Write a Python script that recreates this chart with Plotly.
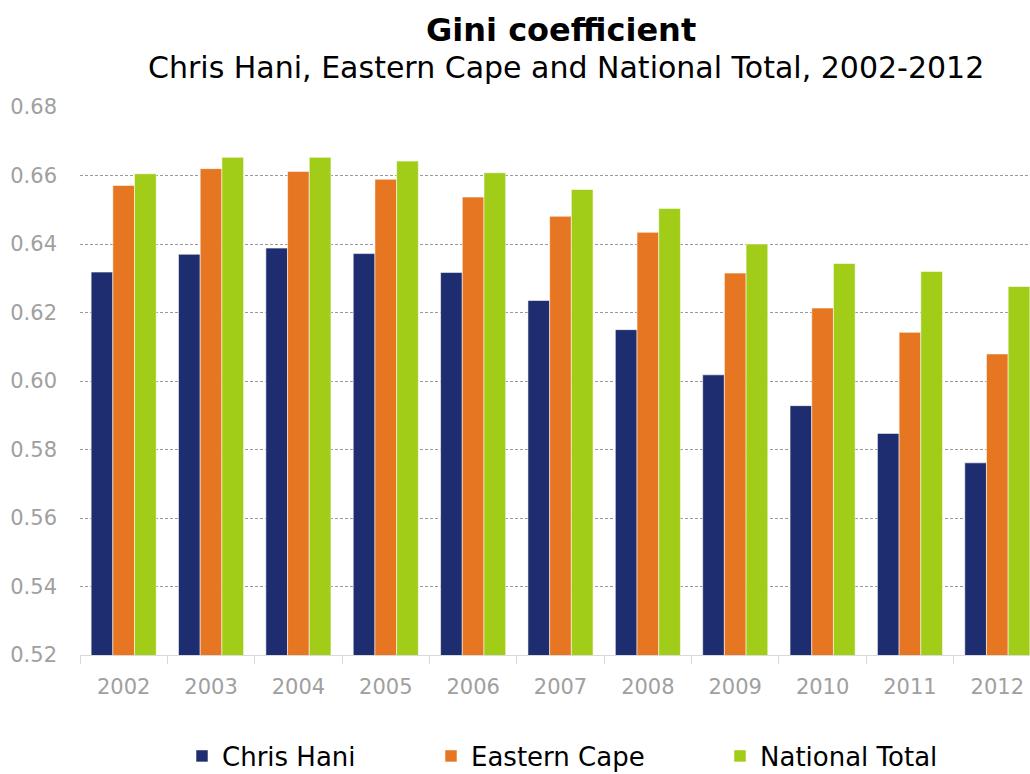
import plotly.graph_objects as go

# Gini coefficient by year for three regions
years = ["2002", "2003", "2004", "2005", "2006", "2007", "2008", "2009", "2010", "2011", "2012"]
chris_hani = [0.6318, 0.6370, 0.6388, 0.6372, 0.6317, 0.6235, 0.6150, 0.6018, 0.5928, 0.5847, 0.5761]
eastern_cape = [0.6571, 0.6620, 0.6612, 0.6589, 0.6537, 0.6481, 0.6434, 0.6315, 0.6213, 0.6142, 0.6079]
national_total = [0.6605, 0.6653, 0.6653, 0.6642, 0.6608, 0.6559, 0.6504, 0.6400, 0.6343, 0.6320, 0.6276]

series = [
    ("Chris Hani", chris_hani, "#1E2D6F"),
    ("Eastern Cape", eastern_cape, "#E67621"),
    ("National Total", national_total, "#A1CC17"),
]

FONT = "DejaVu Sans"
LEFT, RIGHT, TOP, BOTTOM = 80, 0, 107, 119
W, H = 1030, 774
plot_w = W - LEFT - RIGHT
plot_h = H - TOP - BOTTOM


def px_x(px):
    return (px - LEFT) / plot_w


def px_y(px):
    return 1 + (TOP - px) / plot_h


fig = go.Figure()
legend_ids = ["legend", "legend2", "legend3"]
for (name, vals, color), lid in zip(series, legend_ids):
    fig.add_trace(go.Bar(
        x=years, y=vals, name=name, legend=lid,
        marker=dict(color=color, line=dict(color="rgba(255,255,255,0.55)", width=1)),
    ))

# one legend box per series, spaced along the bottom
legend_left_px = [182, 431, 720]
legend_common = dict(
    orientation="h", xanchor="left", yanchor="middle", y=px_y(756),
    font=dict(family=FONT, size=26, color="#000000"), itemwidth=30,
    bgcolor="rgba(0,0,0,0)",
)

fig.update_layout(
    width=W, height=H,
    margin=dict(l=LEFT, r=RIGHT, t=TOP, b=BOTTOM, autoexpand=False),
    paper_bgcolor="white", plot_bgcolor="white",
    barmode="group", bargap=0.255, bargroupgap=0,
    font=dict(family=FONT, color="#000000"),
    showlegend=True,
    legend=dict(x=px_x(legend_left_px[0]), **legend_common),
    legend2=dict(x=px_x(legend_left_px[1]), **legend_common),
    legend3=dict(x=px_x(legend_left_px[2]), **legend_common),
    annotations=[
        dict(text="<b>Gini coefficient</b>", x=px_x(561), y=px_y(30), xref="paper", yref="paper",
             yanchor="middle", showarrow=False, font=dict(family=FONT, size=32, color="#000000")),
        dict(text="Chris Hani, Eastern Cape and National Total, 2002-2012", x=px_x(566), y=px_y(68),
             xref="paper", yref="paper", yanchor="middle", showarrow=False,
             font=dict(family=FONT, size=30, color="#000000")),
    ],
)

fig.update_xaxes(
    range=[-0.5, 10.374],
    showline=True, linecolor="#D9D9D9", linewidth=1,
    ticks="outside", tickson="boundaries", ticklen=8, tickcolor="#D9D9D9",
    tickfont=dict(family=FONT, size=21, color="#A0A0A0"),
    ticklabelstandoff=13,
    showgrid=False,
)
fig.update_yaxes(
    range=[0.52, 0.68], dtick=0.02, tickformat=".2f",
    showgrid=True, gridcolor="#9A9A9A", gridwidth=1, griddash="3px,2px",
    zeroline=False, showline=False, ticks="",
    tickfont=dict(family=FONT, size=21, color="#A0A0A0"),
    ticklabelstandoff=22,
)

fig.write_html("out.html")
